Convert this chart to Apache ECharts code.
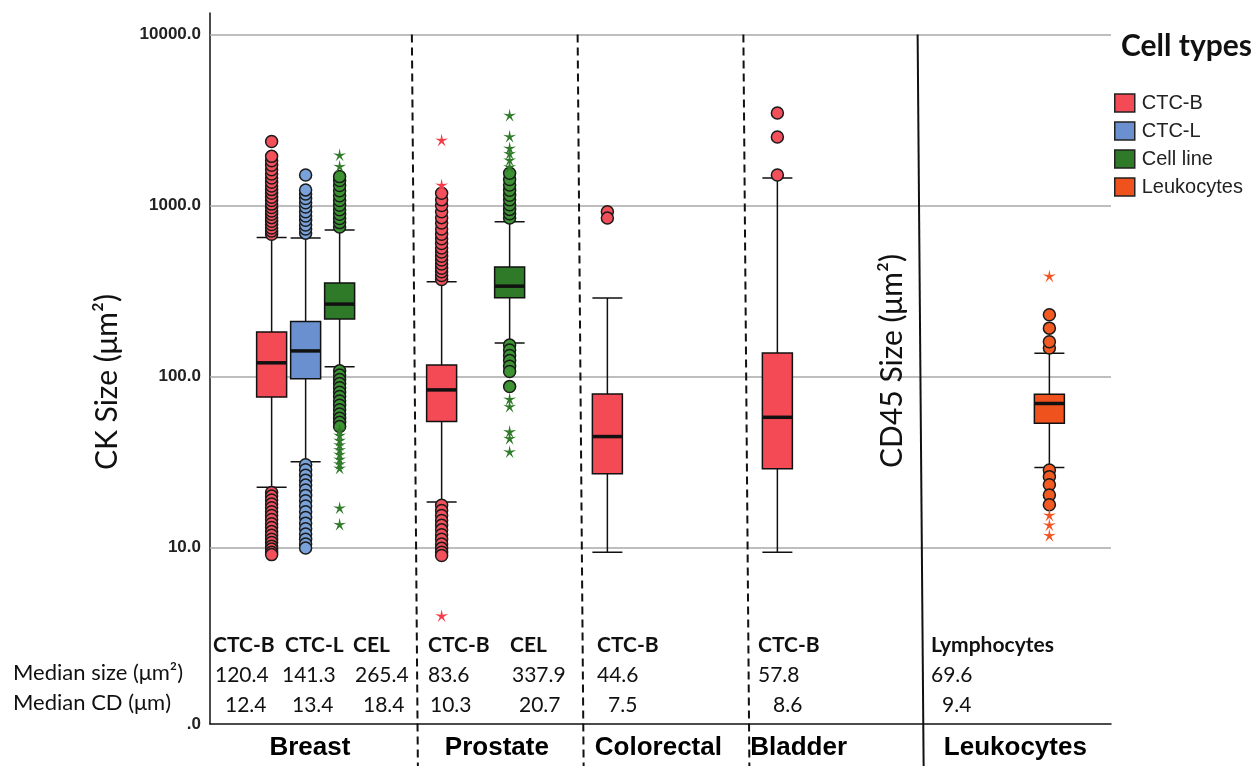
<!DOCTYPE html>
<html><head><meta charset="utf-8">
<script src="https://cdn.jsdelivr.net/npm/echarts@6/dist/echarts.min.js"></script>
<style>html,body{margin:0;padding:0;background:#fff}#c{width:1256px;height:766px}</style>
</head><body><div id="c"></div>
<script>
// ===================== DATA =====================
const cellTypes = ['CTC-B', 'CTC-L', 'Cell line', 'Leukocytes'];
const groups = ['Breast', 'Prostate', 'Colorectal', 'Bladder', 'Leukocytes'];
const boxGroup = ['Breast', 'Breast', 'Breast', 'Prostate', 'Prostate', 'Colorectal', 'Bladder', 'Leukocytes'];
const boxType = ['CTC-B', 'CTC-L', 'Cell line', 'CTC-B', 'Cell line', 'CTC-B', 'CTC-B', 'Leukocytes'];
// [lower whisker, Q1, median, Q3, upper whisker]  (µm²)
const boxStats = [
  [22.5, 76, 120.4, 182, 650],
  [31.8, 97, 141.3, 210, 647],
  [114, 217, 265.4, 353, 720],
  [18.5, 54.6, 83.6, 117, 358],
  [157, 289, 337.9, 438, 805],
  [9.4, 27, 44.6, 79, 288],
  [9.4, 28.9, 57.8, 137.6, 1450],
  [29.4, 53.4, 69.6, 78.9, 137]
];
// outliers (circles)
const circleOutliers = [
  [680, 710, 740, 775, 810, 850, 890, 930, 975, 1020, 1070, 1120, 1180, 1240, 1300, 1370, 1450, 1530, 1620, 1720, 1830, 1940, 2370,
   21, 20, 19, 18, 17.1, 16.2, 15.4, 14.6, 13.8, 13.1, 12.4, 11.8, 11.2, 10.7, 10.2, 9.8, 9.4, 9.1],
  [690, 730, 770, 820, 870, 920, 980, 1040, 1100, 1170, 1235, 1510,
   30.5, 28.5, 26.5, 24.8, 23.2, 21.7, 20.2, 18.8, 17.5, 16.2, 15, 13.9, 12.9, 12, 11.2, 10.5, 9.95],
  [750, 795, 840, 890, 945, 1005, 1070, 1140, 1220, 1310, 1400, 1477,
   108, 102, 96, 91, 86, 81, 76.5, 72, 68, 64, 60.5, 57, 54, 51],
  [370, 390, 410, 430, 455, 480, 505, 535, 565, 600, 640, 680, 730, 790, 850, 920, 1000, 1080, 1180,
   17.7, 16.5, 15.4, 14.4, 13.5, 12.7, 11.9, 11.2, 10.5, 9.9, 9.4, 9.0],
  [845, 895, 950, 1010, 1080, 1150, 1230, 1320, 1420, 1546,
   153, 143, 133, 124, 115, 107, 87.4],
  [920, 845],
  [1510, 2520, 3480],
  [147, 160, 192, 230, 28.4, 26, 23.3, 20.3, 17.8]
];
// extreme values (stars)
const starOutliers = [
  [],
  [],
  [1700, 1980, 48.5, 45.5, 42.5, 40, 37.5, 35.2, 33, 31, 29.2, 17.1, 13.7],
  [1320, 2420, 4.0],
  [1690, 1850, 2020, 2170, 2540, 3380, 74, 67, 47.7, 43.6, 36.4],
  [],
  [],
  [388, 15.5, 13.6, 11.8]
];
const tableHeads = ['CTC-B', 'CTC-L', 'CEL', 'CTC-B', 'CEL', 'CTC-B', 'CTC-B', 'Lymphocytes'];
const medianSize = ['120.4', '141.3', '265.4', '83.6', '337.9', '44.6', '57.8', '69.6'];
const medianCD = ['12.4', '13.4', '18.4', '10.3', '20.7', '7.5', '8.6', '9.4'];
const rowLabels = ['Median size (\u03bcm\u00b2)', 'Median CD (\u03bcm)'];
const yTickValues = [10, 100, 1000, 10000];
const yAxisTitle = 'CK Size (\u03bcm\u00b2)';
const yAxisTitle2 = 'CD45 Size (\u03bcm\u00b2)';
const legendTitle = 'Cell types';

// ===================== LAYOUT / STYLE =====================
const SLOT_COUNT = 212;
const boxSlot = [14, 22, 30, 54, 70, 93, 133, 197];
const groupLabelSlot = [23, 67, 105, 138, 189];
const separatorSlot = [47, 86, 125, 166];
const separatorDashed = [true, true, true, false];
const SEP_TILT = 6;
const tableHeadX = [213, 285, 353, 428, 510, 597, 758, 931];
const tableSizeX = [215, 282, 355, 428, 512, 597, 758, 931];
const tableCdX = [225, 292, 363, 430, 519, 608, 773, 942];
const tableRowY = [645, 675, 705];
const rowLabelX = 13;

const typeColor = {'CTC-B': '#f44a55', 'CTC-L': '#6b90cf', 'Cell line': '#2f7a29', 'Leukocytes': '#f0521e'};
const circleColor = {'CTC-B': '#f4505b', 'CTC-L': '#79a2da', 'Cell line': '#3b9431', 'Leukocytes': '#f25a22'};
const starColor = {'CTC-B': '#f53a48', 'CTC-L': '#6b90cf', 'Cell line': '#2f7a29', 'Leukocytes': '#f4531f'};
const STAR = 'path://M50,0 L58.23,38.67 L97.55,34.55 L63.31,54.33 L79.39,90.45 L50,64 L20.61,90.45 L36.69,54.33 L2.45,34.55 L41.77,38.67 Z';

// ===================== BUILD =====================
const slotCats = [];
for (let i = 0; i < SLOT_COUNT; i++) slotCats.push(String(i));
const slotLabel = {};
groups.forEach((g, i) => { slotLabel[String(groupLabelSlot[i])] = g; });

const xAxes = cellTypes.map((t, i) => ({
  type: 'category', gridIndex: 0, data: slotCats, show: i === 0, boundaryGap: true,
  axisLine: {show: true, lineStyle: {color: '#111', width: 1.5}},
  axisTick: {show: false}, splitLine: {show: false},
  axisLabel: {
    interval: 0, margin: 11, color: '#000', fontFamily: 'Liberation Sans', fontWeight: 'bold', fontSize: 26,
    formatter: v => slotLabel[v] || ''
  }
}));

const series = [];
cellTypes.forEach((t, ti) => {
  const data = [];
  boxType.forEach((bt, i) => { if (bt === t) data.push([boxSlot[i]].concat(boxStats[i])); });
  series.push({
    type: 'boxplot', name: t, xAxisIndex: ti, yAxisIndex: 0,
    encode: {x: 0, y: [1, 2, 3, 4, 5]}, data: data, boxWidth: [30, 30],
    itemStyle: {color: typeColor[t], borderColor: '#111', borderWidth: 1.5},
    emphasis: {disabled: true}, silent: true, z: 2
  });
});
cellTypes.forEach(t => {
  const circ = [], star = [];
  boxType.forEach((bt, i) => {
    if (bt !== t) return;
    circleOutliers[i].forEach(v => circ.push([boxSlot[i], v]));
    starOutliers[i].forEach(v => star.push([boxSlot[i], v]));
  });
  series.push({type: 'scatter', name: t, xAxisIndex: 0, data: circ, symbol: 'circle', symbolSize: 12,
    itemStyle: {color: circleColor[t], borderColor: '#1a1a1a', borderWidth: 1.5, opacity: 1},
    emphasis: {disabled: true}, silent: true, z: 4});
  series.push({type: 'scatter', name: t, xAxisIndex: 0, data: star, symbol: STAR, symbolSize: 13,
    itemStyle: {color: starColor[t], opacity: 1}, emphasis: {disabled: true}, silent: true, z: 4});
});
series.push({
  type: 'scatter', name: 'median', xAxisIndex: 0,
  data: boxStats.map((s, i) => [boxSlot[i], s[2]]),
  symbol: 'rect', symbolSize: [30, 3.5], itemStyle: {color: '#111', opacity: 1},
  emphasis: {disabled: true}, silent: true, z: 3,
  markLine: {
    silent: true, z: 1, symbol: ['none', 'none'], label: {show: false},
    lineStyle: {color: '#a8a8a8', width: 1.5, type: 'solid'},
    emphasis: {disabled: true},
    data: yTickValues.map(v => ({yAxis: v}))
  }
});

const option = {
  animation: false,
  backgroundColor: '#fff',
  title: {text: legendTitle, left: 1121, top: 31, padding: 0,
    textStyle: {fontFamily: 'Lato', fontWeight: 'bold', fontSize: 30, color: '#111'}},
  legend: {
    data: cellTypes.map(t => ({name: t, icon: 'rect',
      itemStyle: {color: typeColor[t], borderColor: '#222', borderWidth: 1.5}})),
    orient: 'vertical', left: 1114, top: 93, padding: 0,
    itemWidth: 20, itemHeight: 18, itemGap: 8, icon: 'rect', selectedMode: false,
    textStyle: {fontFamily: 'Liberation Sans', fontSize: 20, color: '#222', padding: [0, 0, 0, 2]}
  },
  grid: {left: 210, right: 145, top: 13, bottom: 42, containLabel: false, outerBoundsMode: 'none'},
  xAxis: xAxes,
  yAxis: {
    type: 'log', logBase: 10, min: 0.93, max: 13370,
    axisLine: {show: true, lineStyle: {color: '#111', width: 1.5}},
    axisTick: {show: false}, splitLine: {show: false}, minorTick: {show: false},
    axisLabel: {
      showMinLabel: true, showMaxLabel: false, margin: 9,
      fontFamily: 'Liberation Sans', fontWeight: 'bold', fontSize: 17, color: '#222',
      formatter: function (v) {
        if (v < 1) return '.0';
        const l = Math.log10(v);
        if (Math.abs(l - Math.round(l)) < 1e-6 && v >= 10 && v <= 10000) return v.toFixed(1);
        return '';
      }
    }
  },
  series: series
};

const chart = echarts.init(document.getElementById('c'));
chart.setOption(option);

// decorations anchored to the chart scales
const H = 766;
const yTop = chart.convertToPixel({yAxisIndex: 0}, 10000);
const graphics = [];
separatorSlot.forEach((s, i) => {
  const x = chart.convertToPixel({xAxisIndex: 0}, s);
  graphics.push({type: 'line', silent: true, z: 10,
    shape: {x1: x, y1: yTop, x2: x + SEP_TILT, y2: H},
    style: {stroke: '#111', lineWidth: 2, lineDash: separatorDashed[i] ? [8, 5] : null}});
});
const txt = (x, y, text, font) => ({type: 'text', x: x, y: y, silent: true, z: 10,
  style: {text: text, font: font, fill: '#111', align: 'left', verticalAlign: 'middle',
    textAlign: 'left', textVerticalAlign: 'middle'}});
tableHeads.forEach((h, i) => {
  graphics.push(txt(tableHeadX[i], tableRowY[0], h, 'bold 21px Lato'));
  graphics.push(txt(tableSizeX[i], tableRowY[1], medianSize[i], '21px Lato'));
  graphics.push(txt(tableCdX[i], tableRowY[2], medianCD[i], '21px Lato'));
});
graphics.push(txt(rowLabelX, tableRowY[1] - 2, rowLabels[0], '22px Lato'));
graphics.push(txt(rowLabelX, tableRowY[2] - 2, rowLabels[1], '22px Lato'));
const rot = (x, y, text) => ({type: 'text', x: x, y: y, rotation: Math.PI / 2, silent: true, z: 10,
  style: {text: text, font: '30px Lato', fill: '#111', align: 'center', verticalAlign: 'middle',
    textAlign: 'center', textVerticalAlign: 'middle'}});
graphics.push(rot(107, 382, yAxisTitle));
graphics.push(rot(892, 361, yAxisTitle2));
chart.setOption({graphic: graphics});
</script>
</body></html>
